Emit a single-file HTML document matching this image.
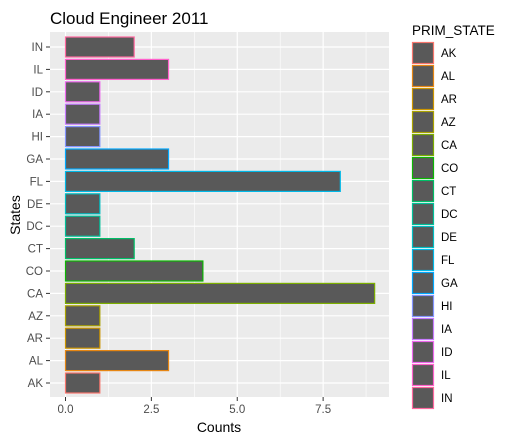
<!DOCTYPE html>
<html><head><meta charset="utf-8"><style>
body{margin:0;background:#fff;}
svg{display:block;font-family:"Liberation Sans",Arial,sans-serif;}
</style></head><body>
<svg id="c" width="516" height="442">
<rect x="0" y="0" width="516" height="442" fill="#fff"/>
<text x="50" y="24" font-size="17" fill="#000">Cloud Engineer 2011</text>
<rect x="50" y="32" width="339" height="365" fill="#EBEBEB"/>
<g id="grid"></g><g id="bars"></g><g id="axes"></g><g id="legend"></g>
<text x="219" y="432" font-size="14" text-anchor="middle" fill="#000">Counts</text>
<text x="20" y="215" font-size="14" text-anchor="middle" fill="#000" transform="rotate(-90 20 215)">States</text>
<text x="412" y="35" font-size="13.5" fill="#000">PRIM_STATE</text>
</svg>
<script>
const states=["AK","AL","AR","AZ","CA","CO","CT","DC","DE","FL","GA","HI","IA","ID","IL","IN"];
const counts=[1,3,1,1,9,4,2,1,1,8,3,1,1,1,3,2];
const colors=["#F8766D","#E68613","#CD9600","#ABA300","#7CAE00","#0CB702","#00BE67","#00C19A","#00BFC4","#00B8E7","#00A9FF","#8494FF","#C77CFF","#ED68ED","#FF61CC","#FF689F"];
const xTicks=[0,2.5,5,7.5];
const xTickLabels=["0.0","2.5","5.0","7.5"];
const NS="http://www.w3.org/2000/svg";
const x0=65.5,pxPer=34.35;
function xs(v){return x0+v*pxPer;}
const yTop=47,yStep=22.4;
function ys(i){return yTop+(states.length-1-i)*yStep;}
function mk(t,a,p){const e=document.createElementNS(NS,t);for(const k in a)e.setAttribute(k,a[k]);p.appendChild(e);return e;}
const grid=document.getElementById('grid'),bars=document.getElementById('bars'),axes=document.getElementById('axes'),leg=document.getElementById('legend');
for(let i=0;i<xTicks.length-1;i++){const m=(xTicks[i]+xTicks[i+1])/2;const l=mk('line',{x1:xs(m),x2:xs(m),y1:32,y2:397,stroke:'#fff','stroke-width':0.6},grid);}
{const m=xTicks[xTicks.length-1]+1.25;const l=mk('line',{x1:xs(m),x2:xs(m),y1:32,y2:397,stroke:'#fff','stroke-width':0.6},grid);}
xTicks.forEach((t,i)=>{
const g=mk('line',{x1:xs(t),x2:xs(t),y1:32,y2:397,stroke:'#fff','stroke-width':1.2},grid);

const tk=mk('line',{x1:xs(t),x2:xs(t),y1:397,y2:401,stroke:'#333','stroke-width':1},axes);

const tx=mk('text',{x:xs(t),y:413,'font-size':11.5,'text-anchor':'middle',fill:'#4D4D4D'},axes);tx.textContent=xTickLabels[i];

});
states.forEach((s,i)=>{
const y=ys(i);
const g=mk('line',{x1:50,x2:389,y1:y,y2:y,stroke:'#fff','stroke-width':1.2},grid);

const b=mk('rect',{x:xs(0),y:y-10,width:xs(counts[i])-xs(0),height:20,fill:'#595959',stroke:colors[i],'stroke-width':1.2},bars);

const tk=mk('line',{x1:46,x2:50,y1:y,y2:y,stroke:'#333','stroke-width':1},axes);

const tx=mk('text',{x:43,y:y+4,'font-size':11.5,'text-anchor':'end',fill:'#4D4D4D'},axes);tx.textContent=s;

const ly=42+i*23;
const k=mk('rect',{x:412.5,y:ly+0.5,width:21,height:21,fill:'#595959',stroke:colors[i],'stroke-width':1.2},leg);

const lt=mk('text',{x:441,y:ly+15,'font-size':11.5,fill:'#000'},leg);lt.textContent=s;

});
</script>
</body></html>
